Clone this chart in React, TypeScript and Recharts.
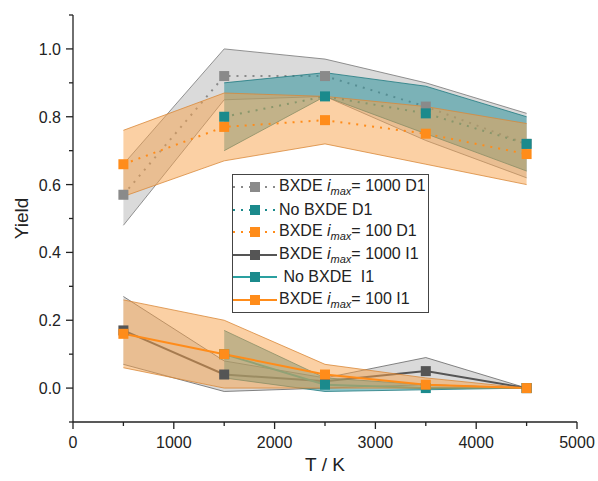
import React from 'react';
import {
  ComposedChart,
  Area,
  Line,
  XAxis,
  YAxis,
  Legend,
} from 'recharts';

// temperatures (K)
const temps = [500, 1500, 2500, 3500, 4500];

// D1 (dotted) series and their bands
const g1000D1 = [0.57, 0.92, 0.92, 0.83, 0.72];
const g1000D1Lo = [0.48, 0.85, 0.86, 0.73, 0.62];
const g1000D1Hi = [0.66, 1.0, 0.97, 0.9, 0.81];

const noD1 = [null, 0.8, 0.86, 0.81, 0.72];
const noD1Lo = [null, 0.7, 0.86, 0.75, 0.64];
const noD1Hi = [null, 0.9, 0.93, 0.89, 0.8];

const o100D1 = [0.66, 0.77, 0.79, 0.75, 0.69];
const o100D1Lo = [0.565, 0.67, 0.72, 0.66, 0.6];
const o100D1Hi = [0.76, 0.87, 0.86, 0.83, 0.78];

// I1 (solid) series and their bands
const g1000I1 = [0.17, 0.04, 0.02, 0.05, 0.0];
const g1000I1Lo = [0.07, -0.01, 0.0, 0.01, 0.0];
const g1000I1Hi = [0.27, 0.08, 0.03, 0.09, 0.0];

const noI1 = [null, 0.1, 0.01, 0.0, 0.0];
const noI1Lo = [null, 0.03, -0.01, -0.005, 0.0];
const noI1Hi = [null, 0.17, 0.03, 0.01, 0.0];

const o100I1 = [0.16, 0.1, 0.04, 0.01, 0.0];
const o100I1Lo = [0.06, 0.0, 0.0, 0.0, 0.0];
const o100I1Hi = [0.26, 0.2, 0.07, 0.03, 0.0];

const xTicks = [0, 500, 1000, 1500, 2000, 2500, 3000, 3500, 4000, 4500, 5000];
const yTicks = [-0.1, 0, 0.1, 0.2, 0.3, 0.4, 0.5, 0.6, 0.7, 0.8, 0.9, 1.0, 1.1];

const band = (lo: (number | null)[], hi: (number | null)[], i: number) =>
  lo[i] == null || hi[i] == null ? null : [lo[i], hi[i]];

const data = temps.map((T, i) => ({
  T,
  g1000D1: g1000D1[i],
  g1000D1Band: band(g1000D1Lo, g1000D1Hi, i),
  noD1: noD1[i],
  noD1Band: band(noD1Lo, noD1Hi, i),
  o100D1: o100D1[i],
  o100D1Band: band(o100D1Lo, o100D1Hi, i),
  g1000I1: g1000I1[i],
  g1000I1Band: band(g1000I1Lo, g1000I1Hi, i),
  noI1: noI1[i],
  noI1Band: band(noI1Lo, noI1Hi, i),
  o100I1: o100I1[i],
  o100I1Band: band(o100I1Lo, o100I1Hi, i),
}));

const FONT = '"Liberation Sans", Arial, sans-serif';
const AXIS = '#222';

const GRAY = '#8a8a8a';
const DGRAY = '#555555';
const TEAL = '#1b8a8c';
const TEAL_LINE = '#2aa0a0';
const ORANGE = '#ff8c1a';

const GRAY_FILL = '#adadad';
const TEAL_FILL = '#2e929a';
const ORANGE_FILL = '#f7a14a';

const square = (color: string) => (p: any) => {
  if (p.cx == null || p.cy == null || p.value == null) return <g key={p.key || p.index} />;
  return <rect key={p.key || p.index} x={p.cx - 5} y={p.cy - 5} width={10} height={10} fill={color} />;
};

const XTick = (props: any) => {
  const { x, y, payload } = props;
  const major = payload.value % 1000 === 0;
  return (
    <g>
      <line x1={x} x2={x} y1={y} y2={y + (major ? 7 : 4)} stroke={AXIS} strokeWidth={1.3} />
      {major && (
        <text x={x} y={y + 26} textAnchor="middle" fontSize={16} fill={AXIS} fontFamily={FONT}>
          {payload.value}
        </text>
      )}
    </g>
  );
};

const YTick = (props: any) => {
  const { x, y, payload } = props;
  const major = Math.round(payload.value * 10) % 2 === 0;
  return (
    <g>
      <line x1={x} x2={x - (major ? 7 : 4)} y1={y} y2={y} stroke={AXIS} strokeWidth={1.3} />
      {major && (
        <text x={x - 12} y={y + 6} textAnchor="end" fontSize={16} fill={AXIS} fontFamily={FONT}>
          {payload.value.toFixed(1)}
        </text>
      )}
    </g>
  );
};

const legendItems = [
  { color: GRAY, line: GRAY, dotted: true, label: ['BXDE ', true, '= 1000 D1'] },
  { color: TEAL, line: TEAL, dotted: true, label: ['No BXDE D1', false, ''] },
  { color: ORANGE, line: ORANGE, dotted: true, label: ['BXDE ', true, '= 100 D1'] },
  { color: DGRAY, line: DGRAY, dotted: false, label: ['BXDE ', true, '= 1000 I1'] },
  { color: TEAL, line: TEAL_LINE, dotted: false, label: ['\u00a0No BXDE\u00a0 I1', false, ''] },
  { color: ORANGE, line: ORANGE, dotted: false, label: ['BXDE ', true, '= 100 I1'] },
];

const renderLegend = () => (
  <div
    style={{
      border: '1px solid #444',
      background: '#fff',
      width: 197,
      height: 139,
      paddingTop: 1,
      boxSizing: 'border-box',
      fontFamily: FONT,
      fontSize: 16,
      color: '#222',
    }}
  >
    {legendItems.map((it, i) => (
      <div key={i} style={{ height: 22.5, display: 'flex', alignItems: 'center', whiteSpace: 'nowrap' }}>
        <svg width={45} height={14} style={{ flex: 'none' }}>
          <line
            x1={0}
            x2={44}
            y1={7}
            y2={7}
            stroke={it.line}
            strokeWidth={2}
            strokeDasharray={it.dotted ? '2 6' : undefined}
          />
          <rect x={17} y={2} width={10} height={10} fill={it.color} />
        </svg>
        <span style={{ marginLeft: 1 }}>
          {it.label[0] as string}
          {it.label[1] && (
            <>
              <i>i</i>
              <sub style={{ fontSize: 11, fontStyle: 'italic', verticalAlign: -4 }}>max</sub>
            </>
          )}
          {it.label[2] as string}
        </span>
      </div>
    ))}
  </div>
);

export default function App() {
  return (
    <div style={{ position: 'absolute', left: 0, top: 0, background: '#fff' }}>
      <ComposedChart
        width={598}
        height={481}
        data={data}
        margin={{ top: 15, right: 21, bottom: 0, left: 23 }}
      >
        <XAxis
          dataKey="T"
          type="number"
          domain={[0, 5000]}
          ticks={xTicks}
          interval={0}
          height={59}
          tickSize={0}
          tickMargin={0}
          tickLine={false}
          tick={<XTick />}
          axisLine={{ stroke: AXIS, strokeWidth: 1.3 }}
          label={{ value: 'T / K', position: 'insideBottom', offset: 10, fontSize: 19, fill: AXIS, fontFamily: FONT }}
        />
        <YAxis
          type="number"
          domain={[-0.1, 1.1]}
          ticks={yTicks}
          interval={0}
          width={50}
          tickSize={0}
          tickMargin={0}
          tickLine={false}
          tick={<YTick />}
          axisLine={{ stroke: AXIS, strokeWidth: 1.3 }}
          label={{ value: 'Yield', angle: -90, position: 'center', dx: -27, fontSize: 19, fill: AXIS, fontFamily: FONT }}
        />

        {/* D1: band then dotted line, series by series */}
        <Area zIndex={101} dataKey="g1000D1Band" fill={GRAY_FILL} fillOpacity={0.45} stroke="#777" strokeWidth={0.8} isAnimationActive={false} legendType="none" />
        <Line zIndex={102} dataKey="g1000D1" stroke={GRAY} strokeWidth={2} strokeDasharray="2 6" dot={square(GRAY)} activeDot={false} isAnimationActive={false} />
        <Area zIndex={103} dataKey="noD1Band" fill={TEAL_FILL} fillOpacity={0.55} stroke="#1f7a80" strokeWidth={0.8} isAnimationActive={false} legendType="none" />
        <Line zIndex={104} dataKey="noD1" stroke={TEAL} strokeWidth={2} strokeDasharray="2 6" dot={square(TEAL)} activeDot={false} isAnimationActive={false} />
        <Area zIndex={105} dataKey="o100D1Band" fill={ORANGE_FILL} fillOpacity={0.5} stroke="#d9893a" strokeWidth={0.8} isAnimationActive={false} legendType="none" />
        <Line zIndex={106} dataKey="o100D1" stroke={ORANGE} strokeWidth={2} strokeDasharray="2 6" dot={square(ORANGE)} activeDot={false} isAnimationActive={false} />

        {/* I1: band then solid line, series by series */}
        <Area zIndex={107} dataKey="g1000I1Band" fill={GRAY_FILL} fillOpacity={0.45} stroke="#666" strokeWidth={0.8} isAnimationActive={false} legendType="none" />
        <Line zIndex={108} dataKey="g1000I1" stroke={DGRAY} strokeWidth={2} dot={square(DGRAY)} activeDot={false} isAnimationActive={false} />
        <Area zIndex={109} dataKey="noI1Band" fill={TEAL_FILL} fillOpacity={0.55} stroke="#1f7a80" strokeWidth={0.8} isAnimationActive={false} legendType="none" />
        <Line zIndex={110} dataKey="noI1" stroke={TEAL_LINE} strokeWidth={2} dot={square(TEAL)} activeDot={false} isAnimationActive={false} />
        <Area zIndex={111} dataKey="o100I1Band" fill={ORANGE_FILL} fillOpacity={0.5} stroke="#d9893a" strokeWidth={0.8} isAnimationActive={false} legendType="none" />
        <Line zIndex={112} dataKey="o100I1" stroke={ORANGE} strokeWidth={2} dot={square(ORANGE)} activeDot={false} isAnimationActive={false} />

        <Legend
          layout="vertical"
          align="center"
          verticalAlign="middle"
          content={renderLegend}
          wrapperStyle={{ position: 'absolute', left: 232, top: 174, width: 199, height: 141 }}
        />
      </ComposedChart>
    </div>
  );
}
